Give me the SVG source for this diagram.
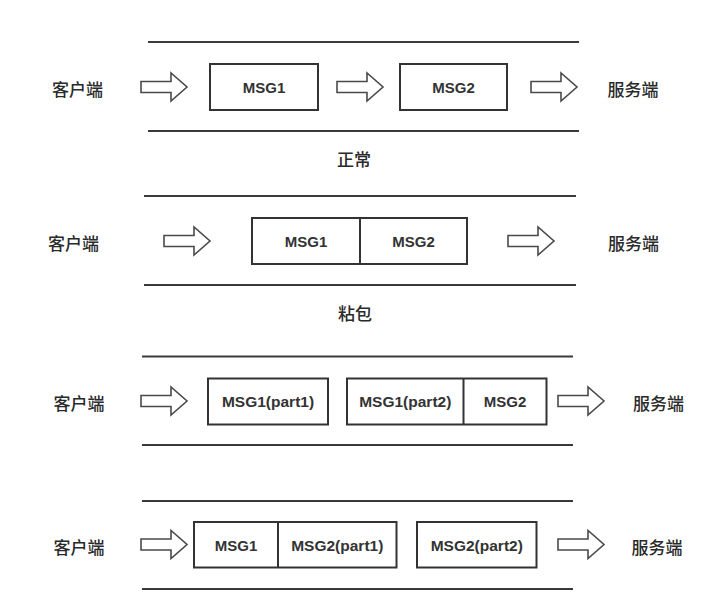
<svg xmlns="http://www.w3.org/2000/svg" width="713" height="600" viewBox="0 0 713 600">
<style>
  .bg{fill:#ffffff}
  .rail{stroke:#3a3a3a;stroke-width:2;fill:none}
  .box{fill:#ffffff;stroke:#333333;stroke-width:2}
  .div{stroke:#333333;stroke-width:2}
  .arrow{fill:#ffffff;stroke:#4a4a4a;stroke-width:1.6;stroke-linejoin:miter}
  .msg{font-family:"Liberation Sans",Arial,sans-serif;font-weight:bold;font-size:15px;fill:#333333;text-anchor:middle;dominant-baseline:central}
  .part{font-size:15.5px}
  .cn{font-family:"Noto Sans CJK SC",sans-serif;font-weight:500;font-size:17px;fill:#2a2a2a;text-anchor:middle;dominant-baseline:central}
</style>
<defs>
  <path id="arr" d="M0,-5.5 H30 V-14 L46,0 L30,14 V5.5 H0 Z"/>
</defs>
<rect class="bg" x="0" y="0" width="713" height="600"/>

<g id="connectors">
  <use href="#arr" class="arrow" x="141" y="87"/>
  <use href="#arr" class="arrow" x="337" y="87"/>
  <use href="#arr" class="arrow" x="531" y="87"/>
  <use href="#arr" class="arrow" x="164" y="241"/>
  <use href="#arr" class="arrow" x="508" y="241"/>
  <use href="#arr" class="arrow" x="141" y="401"/>
  <use href="#arr" class="arrow" x="558" y="401"/>
  <use href="#arr" class="arrow" x="141" y="544.5"/>
  <use href="#arr" class="arrow" x="558" y="544.5"/>
</g>

<g id="rails">
  <line class="rail" x1="148" y1="42" x2="579" y2="42"/>
  <line class="rail" x1="148" y1="131" x2="579" y2="131"/>
  <line class="rail" x1="144" y1="196" x2="576" y2="196"/>
  <line class="rail" x1="144" y1="285" x2="576" y2="285"/>
  <line class="rail" x1="142" y1="356.5" x2="573" y2="356.5"/>
  <line class="rail" x1="142" y1="445" x2="573" y2="445"/>
  <line class="rail" x1="142" y1="501" x2="573" y2="501"/>
  <line class="rail" x1="142" y1="589" x2="573" y2="589"/>
</g>

<g id="section1">
  <g id="client1"><text class="cn" x="77.5" y="88">客户端</text></g>
  <g id="s1-msg1"><rect class="box" x="210" y="64" width="108" height="46"/><text class="msg" x="264" y="87">MSG1</text></g>
  <g id="s1-msg2"><rect class="box" x="400" y="64" width="107" height="46"/><text class="msg" x="453.5" y="87">MSG2</text></g>
  <g id="server1"><text class="cn" x="633" y="88">服务端</text></g>
  <g id="label1"><text class="cn" x="354" y="158">正常</text></g>
</g>

<g id="section2">
  <g id="client2"><text class="cn" x="73.5" y="242">客户端</text></g>
  <g id="s2-pack"><rect class="box" x="252" y="218" width="215" height="46"/><line class="div" x1="360" y1="218" x2="360" y2="264"/><text class="msg" x="306" y="241">MSG1</text><text class="msg" x="413.5" y="241">MSG2</text></g>
  <g id="server2"><text class="cn" x="633.5" y="242">服务端</text></g>
  <g id="label2"><text class="cn" x="355" y="312">粘包</text></g>
</g>

<g id="section3">
  <g id="client3"><text class="cn" x="79" y="402">客户端</text></g>
  <g id="s3-part1"><rect class="box" x="208" y="378.5" width="120" height="46"/><text class="msg part" x="268" y="401.5">MSG1(part1)</text></g>
  <g id="s3-pack"><rect class="box" x="347" y="378.5" width="199.5" height="46"/><line class="div" x1="463.5" y1="378.5" x2="463.5" y2="424.5"/><text class="msg part" x="405.25" y="401.5">MSG1(part2)</text><text class="msg" x="505" y="401.5">MSG2</text></g>
  <g id="server3"><text class="cn" x="658.5" y="402">服务端</text></g>
</g>

<g id="section4">
  <g id="client4"><text class="cn" x="79" y="546">客户端</text></g>
  <g id="s4-pack"><rect class="box" x="194" y="522" width="202.5" height="45.5"/><line class="div" x1="278" y1="522" x2="278" y2="567.5"/><text class="msg" x="236" y="545">MSG1</text><text class="msg part" x="337.25" y="545">MSG2(part1)</text></g>
  <g id="s4-part2"><rect class="box" x="417" y="522" width="119.5" height="45.5"/><text class="msg part" x="476.75" y="545">MSG2(part2)</text></g>
  <g id="server4"><text class="cn" x="657" y="546">服务端</text></g>
</g>
</svg>
